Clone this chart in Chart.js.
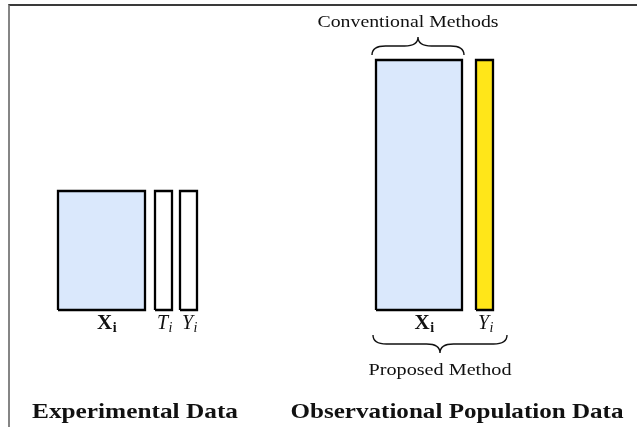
<!DOCTYPE html>
<html>
<head>
<meta charset="utf-8">
<script src="https://cdn.jsdelivr.net/npm/chart.js@4/dist/chart.umd.min.js"></script>
<style>
  body { margin: 0; background: #fff; }
  #wrap { position: relative; width: 637px; height: 427px; }
  #frame { position: absolute; left: 8px; top: 4px; right: 0; bottom: 0;
           border-top: 2px solid #3a3a3a; border-left: 2px solid #858585; }
  canvas { position: absolute; left: 0; top: 0; }
</style>
</head>
<body>
<div id="wrap">
  <div id="frame"></div>
  <canvas id="myChart" width="637" height="427"></canvas>
</div>
<script>
// Data
const groups = ['Experimental Data', 'Observational Population Data'];
const sampleRows = [119, 250];
const blockNames = [['X', 'T', 'Y'], ['X', 'Y']];
const blockCols = [[87, 17, 17], [86, 17]];
const conventionalLabel = 'Conventional Methods';
const proposedLabel = 'Proposed Method';

// layout (pixels, not data)
const groupStart = [58, 376];
const blockGaps = [[10, 8], [14]];
const titleX = [135, 457];
const titleW = [206, 333];
const fills = { X: '#dae8fc', T: '#ffffff', Y: '#ffffff', Yobs: '#ffe619' };
const SERIF = '"Liberation Serif", "DejaVu Serif", serif';

// build rectangles from the arrays
const rects = [];
groups.forEach(function (g, gi) {
  let x = groupStart[gi];
  blockNames[gi].forEach(function (name, bi) {
    const w = blockCols[gi][bi];
    rects.push({ group: gi, name: name, x0: x, x1: x + w, h: sampleRows[gi] });
    x += w + (blockGaps[gi][bi] || 0);
  });
});

const datasets = rects.map(function (r) {
  let col = fills[r.name];
  if (r.group === 1 && r.name === 'Y') col = fills.Yobs;
  return {
    label: groups[r.group] + ' ' + r.name,
    data: [
      { x: r.x0, y: 0 }, { x: r.x0, y: r.h },
      { x: r.x1, y: r.h }, { x: r.x1, y: 0 }, { x: r.x0, y: 0 }
    ],
    showLine: true,
    fill: 'shape',
    backgroundColor: col,
    borderColor: '#000',
    borderWidth: 2.3,
    borderJoinStyle: 'miter',
    pointRadius: 0,
    tension: 0
  };
});

function brace(ctx, x1, x2, y, h, dir) {
  // dir -1 tip up, +1 tip down
  const xm = (x1 + x2) / 2;
  const q = h / 2;
  const ym = y + dir * q;
  ctx.beginPath();
  ctx.moveTo(x1, y);
  ctx.quadraticCurveTo(x1, ym, x1 + q * 1.5, ym);
  ctx.lineTo(xm - q * 1.5, ym);
  ctx.quadraticCurveTo(xm, ym, xm, y + dir * h);
  ctx.quadraticCurveTo(xm, ym, xm + q * 1.5, ym);
  ctx.lineTo(x2 - q * 1.5, ym);
  ctx.quadraticCurveTo(x2, ym, x2, y);
  ctx.stroke();
}

// text stretched sideways to the width of the original (Computer Modern is wider)
function wideText(ctx, text, cx, y, w) {
  const m = ctx.measureText(text).width;
  ctx.save();
  ctx.translate(cx, y);
  ctx.scale(w / m, 1);
  ctx.textAlign = 'center';
  ctx.fillText(text, 0, 0);
  ctx.restore();
}

function subLabel(ctx, main, sub, cx, y, bold) {
  const mf = bold ? 'bold 21px ' + SERIF : 'italic 20px ' + SERIF;
  const sf = bold ? 'bold 14px ' + SERIF : 'italic 14px ' + SERIF;
  ctx.font = mf;
  const mw = ctx.measureText(main).width;
  ctx.font = sf;
  const sw = ctx.measureText(sub).width;
  const x = cx - (mw + sw) / 2;
  ctx.textAlign = 'left';
  ctx.font = mf;
  ctx.fillText(main, x, y);
  ctx.font = sf;
  ctx.fillText(sub, x + mw + 0.5, y + 3);
}

const annotations = {
  id: 'annotations',
  afterDatasetsDraw: function (chart) {
    const ctx = chart.ctx;
    const xs = chart.scales.x, ys = chart.scales.y;
    const base = ys.getPixelForValue(0);
    ctx.save();
    ctx.fillStyle = '#111';
    ctx.strokeStyle = '#111';
    ctx.lineWidth = 1.4;
    ctx.textBaseline = 'alphabetic';

    // block labels
    rects.forEach(function (r) {
      const cx = (xs.getPixelForValue(r.x0) + xs.getPixelForValue(r.x1)) / 2;
      const bold = r.name === 'X';
      subLabel(ctx, r.name, 'i', cx + (bold ? 5 : 1), base + 19, bold);
    });

    // braces on the observational group
    const obs = rects.filter(function (r) { return r.group === 1; });
    const xL = xs.getPixelForValue(obs[0].x0);
    const xR = xs.getPixelForValue(obs[0].x1);
    const yR = xs.getPixelForValue(obs[obs.length - 1].x1);
    const top = ys.getPixelForValue(obs[0].h);
    brace(ctx, xL - 4, xR + 2, top - 5, 18, -1);
    brace(ctx, xL - 3, yR + 14, base + 25, 18, 1);

    ctx.font = '17px ' + SERIF;
    wideText(ctx, conventionalLabel, (xL + xR) / 2 - 11, top - 33, 181);
    wideText(ctx, proposedLabel, (xL + yR + 11) / 2, base + 65, 143);

    // group titles
    ctx.font = 'bold 21px ' + SERIF;
    groups.forEach(function (g, gi) {
      wideText(ctx, g, titleX[gi], base + 108, titleW[gi]);
    });
    ctx.restore();
  }
};

const config = {
  type: 'scatter',
  data: { datasets: datasets },
  options: {
    responsive: false,
    animation: false,
    layout: { padding: 0 },
    plugins: { legend: { display: false }, tooltip: { enabled: false } },
    scales: {
      x: { type: 'linear', min: 0, max: 637, display: false },
      y: { type: 'linear', min: -117, max: 310, display: false }
    }
  },
  plugins: [annotations]
};

var myChart = new Chart(document.getElementById('myChart'), config);
</script>
</body>
</html>
